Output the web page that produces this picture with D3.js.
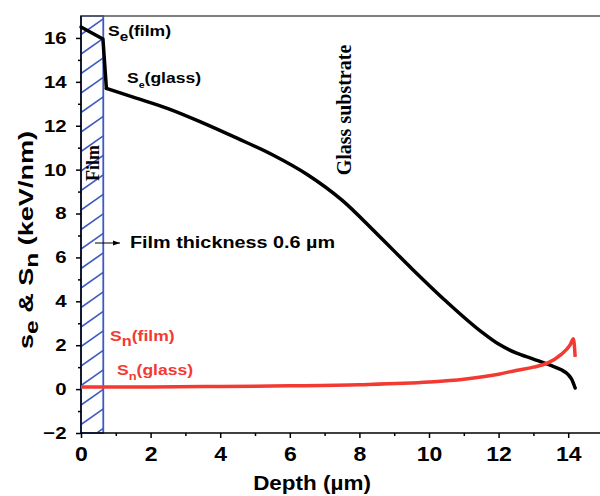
<!DOCTYPE html>
<html>
<head>
<meta charset="utf-8">
<script src="https://cdn.jsdelivr.net/npm/d3@7"></script>
<style>
  body { margin: 0; background: #fff; }
</style>
</head>
<body>
<div id="chart"></div>
<script>
// electronic stopping S_e (black) and nuclear stopping S_n (red), keV/nm vs depth (um)
var seFilmDepth = [0, 0.63, 0.73];
var seFilmValue = [16.5, 15.95, 13.7];
var seGlassDepth = [0.73, 1.5, 2.5, 3.5, 4.5, 5.5, 6.5, 7.5, 8.5, 9.5, 10.5, 11.5, 12, 12.5, 13, 13.5, 13.8, 14, 14.1, 14.2];
var seGlassValue = [13.7, 13.3, 12.78, 12.13, 11.42, 10.68, 9.78, 8.61, 7.08, 5.5, 3.99, 2.62, 2.05, 1.65, 1.37, 1.08, 0.88, 0.66, 0.45, 0.05];
var snDepth = [0, 2, 4, 6, 8, 10, 11, 12, 12.5, 13, 13.4, 13.8, 14.05, 14.15, 14.2];
var snValue = [0.1, 0.1, 0.12, 0.15, 0.2, 0.32, 0.45, 0.68, 0.85, 1.0, 1.18, 1.58, 2.0, 2.3, 1.47];
var filmThickness = 0.64;
var xTicks = [0, 2, 4, 6, 8, 10, 12, 14];
var yTicks = [-2, 0, 2, 4, 6, 8, 10, 12, 14, 16];

var svgWidth = 600, svgHeight = 496;
var margin = {top: 16, left: 81};
var bottom = 433;
var sans = "'Liberation Sans', Arial, sans-serif";
var serif = "'Liberation Serif', 'Times New Roman', serif";

var svg = d3.select("#chart").append("svg")
  .attr("width", svgWidth).attr("height", svgHeight);

var x = d3.scaleLinear().domain([0, 15]).range([margin.left, 603]);
var y = d3.scaleLinear().domain([-2, 17]).range([bottom, margin.top]);

var blue = "#3d5ac0", red = "#f23a32";

// film region with hatching
svg.append("clipPath").attr("id", "filmClip")
  .append("rect")
  .attr("x", x(0)).attr("y", y(17))
  .attr("width", x(filmThickness) - x(0)).attr("height", y(-2) - y(17));

var fw = x(filmThickness) - x(0);
svg.append("g").attr("clip-path", "url(#filmClip)")
  .selectAll("line")
  .data(d3.range(y(17) - 40, y(-2) + 40, 19.5))
  .join("line")
  .attr("x1", x(0)).attr("y1", function(d) { return d; })
  .attr("x2", x(filmThickness)).attr("y2", function(d) { return d - fw * 0.7; })
  .attr("stroke", blue).attr("stroke-width", 1.6);

svg.append("rect")
  .attr("x", x(0)).attr("y", y(17))
  .attr("width", fw).attr("height", y(-2) - y(17))
  .attr("fill", "none").attr("stroke", blue).attr("stroke-width", 1.8);

// frame top
svg.append("line")
  .attr("x1", x(0)).attr("x2", svgWidth)
  .attr("y1", y(17)).attr("y2", y(17))
  .attr("stroke", "#555").attr("stroke-width", 1.5);

// axes
var minorX = d3.range(1, 15, 2);
var minorY = d3.range(-1, 17, 2);

var gx = svg.append("g").attr("transform", "translate(0," + bottom + ")");
gx.call(d3.axisBottom(x).tickValues(xTicks).tickSize(5).tickPadding(9));
gx.append("g").call(d3.axisBottom(x).tickValues(minorX).tickSize(3).tickFormat(""));
gx.selectAll(".domain").remove();
gx.append("line").attr("x1", x(0)).attr("x2", svgWidth).attr("stroke", "#000").attr("stroke-width", 1.5);

var gy = svg.append("g").attr("transform", "translate(" + margin.left + ",0)");
gy.call(d3.axisLeft(y).tickValues(yTicks).tickSize(5).tickPadding(7));
gy.append("g").call(d3.axisLeft(y).tickValues(minorY).tickSize(3).tickFormat(""));
gy.selectAll(".domain").remove();
gy.append("line").attr("y1", y(17)).attr("y2", bottom).attr("stroke", "#000").attr("stroke-width", 1.5);

svg.selectAll(".tick line").attr("stroke", "#000").attr("stroke-width", 1.5);
gx.selectAll(".tick text")
  .attr("font-size", 20).attr("fill", "#000")
  .attr("font-family", sans).attr("font-weight", "bold")
  .attr("transform", "scale(1.15,1)");
gy.selectAll(".tick text")
  .attr("font-size", 17).attr("fill", "#000")
  .attr("font-family", sans).attr("font-weight", "bold")
  .attr("transform", "scale(1.2,1)");

// curves
var smooth = d3.line()
  .x(function(d) { return x(d[0]); })
  .y(function(d) { return y(d[1]); })
  .curve(d3.curveMonotoneX);
var straight = d3.line()
  .x(function(d) { return x(d[0]); })
  .y(function(d) { return y(d[1]); });

svg.append("path")
  .datum(d3.zip(seFilmDepth, seFilmValue))
  .attr("d", straight)
  .attr("fill", "none").attr("stroke", "#000").attr("stroke-width", 3.5)
  .attr("stroke-linejoin", "round").attr("stroke-linecap", "round");

svg.append("path")
  .datum(d3.zip(seGlassDepth, seGlassValue))
  .attr("d", smooth)
  .attr("fill", "none").attr("stroke", "#000").attr("stroke-width", 3.5)
  .attr("stroke-linejoin", "round").attr("stroke-linecap", "round");

svg.append("path")
  .datum(d3.zip(snDepth, snValue))
  .attr("d", smooth)
  .attr("fill", "none").attr("stroke", red).attr("stroke-width", 3.5)
  .attr("stroke-linejoin", "round");

// horizontal text, slightly widened like the original
function hText(px, py, size, sx) {
  return svg.append("text")
    .attr("transform", "translate(" + px + "," + py + ") scale(" + sx + ",1)")
    .attr("font-family", sans).attr("font-weight", "bold")
    .attr("font-size", size).attr("fill", "#000");
}

function subLabel(px, py, main, sub, rest, color, subSize) {
  var t = hText(px, py, 15, 1.17).attr("fill", color);
  t.append("tspan").text(main);
  t.append("tspan").attr("font-size", subSize).attr("dy", 5).text(sub);
  t.append("tspan").attr("dy", -5).text(rest);
}
subLabel(108, 36, "S", "e", "(film)", "#000", 13);
subLabel(127, 83, "S", "e", "(glass)", "#000", 9);
subLabel(110, 341, "S", "n", "(film)", red, 14);
subLabel(117, 375, "S", "n", "(glass)", red, 11);

svg.append("text")
  .attr("transform", "translate(351,110) rotate(-90)")
  .attr("text-anchor", "middle")
  .attr("font-family", serif).attr("font-weight", "bold")
  .attr("font-size", 20).attr("fill", "#000")
  .text("Glass substrate");

svg.append("text")
  .attr("transform", "translate(99,163) rotate(-90)")
  .attr("text-anchor", "middle")
  .attr("font-family", serif).attr("font-weight", "bold")
  .attr("font-size", 18).attr("fill", "#000")
  .text("Film");

// film thickness arrow
svg.append("defs").append("marker")
  .attr("id", "arrow").attr("viewBox", "0 0 10 10")
  .attr("refX", 10).attr("refY", 5)
  .attr("markerWidth", 7).attr("markerHeight", 7)
  .attr("orient", "auto")
  .append("path").attr("d", "M0,1.5L10,5L0,8.5Z").attr("fill", "#000");

svg.append("line")
  .attr("x1", 95).attr("x2", 120).attr("y1", 243).attr("y2", 243)
  .attr("stroke", "#000").attr("stroke-width", 1)
  .attr("marker-end", "url(#arrow)");

hText(130, 248, 16.5, 1.2).text("Film thickness 0.6 \u00b5m");

// axis titles
hText(312, 490, 21, 1.07).attr("text-anchor", "middle").text("Depth (\u00b5m)");

var yl = svg.append("text")
  .attr("transform", "translate(33,240) rotate(-90)")
  .attr("text-anchor", "middle")
  .attr("font-family", sans).attr("font-weight", "bold")
  .attr("font-size", 21).attr("fill", "#000")
  .attr("textLength", 218).attr("lengthAdjust", "spacingAndGlyphs");
yl.append("tspan").text("s");
yl.append("tspan").attr("dy", 5).attr("font-size", 19).text("e");
yl.append("tspan").attr("dy", -5).text(" & S");
yl.append("tspan").attr("dy", 5).attr("font-size", 19).text("n");
yl.append("tspan").attr("dy", -5).text(" (keV/nm)");
</script>
</body>
</html>
